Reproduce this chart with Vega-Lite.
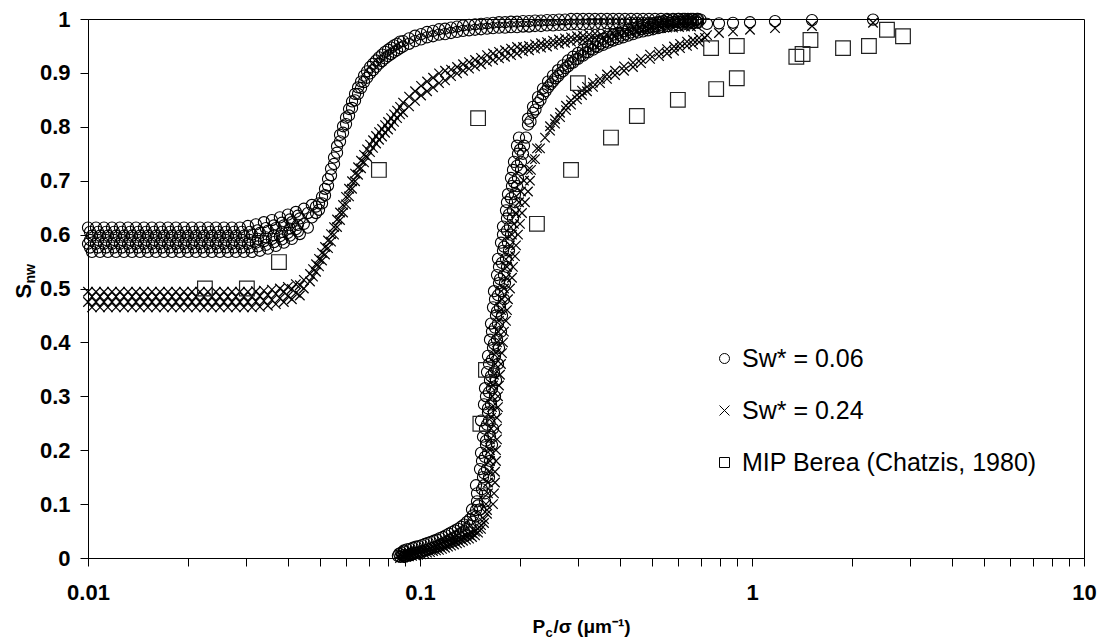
{
"$schema": "https://vega.github.io/schema/vega-lite/v6.json",
"width": 996, "height": 539,
"autosize": {"type": "none"},
"padding": {"left": 88, "top": 19, "right": 19, "bottom": 83},
"background": "white",
"resolve": {"axis": {"x": "independent", "y": "independent"}},
"config": {
  "view": {"stroke": "black", "strokeWidth": 1},
  "axis": {"domainColor": "black", "tickColor": "black", "labelColor": "black", "titleColor": "black", "labelFont": "Liberation Sans", "titleFont": "Liberation Sans", "labelFontWeight": "bold", "labelFontSize": 22, "titleFontSize": 19, "titleFontWeight": "bold", "grid": false, "tickSize": 8, "domainWidth": 1, "tickWidth": 1},
  "legend": {"labelFont": "Liberation Sans", "labelFontSize": 25, "labelColor": "black", "labelLimit": 600, "symbolStrokeColor": "black", "symbolStrokeWidth": 1, "symbolFillColor": "transparent"}
},
"datasets": {
"c": [
{"x":0.01,"y":0.613},{"x":0.01057,"y":0.613},{"x":0.01117,"y":0.613},{"x":0.01181,"y":0.613},{"x":0.01248,"y":0.613},{"x":0.0132,"y":0.613},{"x":0.01395,"y":0.613},{"x":0.01474,"y":0.613},{"x":0.01558,"y":0.613},{"x":0.01647,"y":0.613},{"x":0.01741,"y":0.613},{"x":0.0184,"y":0.613},{"x":0.01945,"y":0.613},{"x":0.02056,"y":0.613},{"x":0.02173,"y":0.613},{"x":0.02297,"y":0.613},{"x":0.02428,"y":0.613},{"x":0.02567,"y":0.613},{"x":0.02713,"y":0.613},{"x":0.02868,"y":0.613},{"x":0.03031,"y":0.616},{"x":0.03204,"y":0.619},{"x":0.03387,"y":0.623},{"x":0.0358,"y":0.627},{"x":0.03784,"y":0.632},{"x":0.03999,"y":0.637},{"x":0.04227,"y":0.642},{"x":0.04468,"y":0.648},{"x":0.04723,"y":0.655},
{"x":0.01028,"y":0.598},{"x":0.01087,"y":0.598},{"x":0.01148,"y":0.598},{"x":0.01214,"y":0.598},{"x":0.01283,"y":0.598},{"x":0.01357,"y":0.598},{"x":0.01434,"y":0.598},{"x":0.01515,"y":0.598},{"x":0.01602,"y":0.598},{"x":0.01693,"y":0.598},{"x":0.0179,"y":0.598},{"x":0.01892,"y":0.598},{"x":0.02,"y":0.598},{"x":0.02114,"y":0.598},{"x":0.02234,"y":0.598},{"x":0.02362,"y":0.598},{"x":0.02496,"y":0.598},{"x":0.02639,"y":0.598},{"x":0.02789,"y":0.598},{"x":0.02949,"y":0.598},{"x":0.03116,"y":0.6},{"x":0.03294,"y":0.603},{"x":0.03482,"y":0.607},{"x":0.0368,"y":0.612},{"x":0.0389,"y":0.617},{"x":0.04112,"y":0.623},{"x":0.04346,"y":0.63},{"x":0.04594,"y":0.64},
{"x":0.01,"y":0.583},{"x":0.01057,"y":0.583},{"x":0.01117,"y":0.583},{"x":0.01181,"y":0.583},{"x":0.01248,"y":0.583},{"x":0.0132,"y":0.583},{"x":0.01395,"y":0.583},{"x":0.01474,"y":0.583},{"x":0.01558,"y":0.583},{"x":0.01647,"y":0.583},{"x":0.01741,"y":0.583},{"x":0.0184,"y":0.583},{"x":0.01945,"y":0.583},{"x":0.02056,"y":0.583},{"x":0.02173,"y":0.583},{"x":0.02297,"y":0.583},{"x":0.02428,"y":0.583},{"x":0.02567,"y":0.583},{"x":0.02713,"y":0.583},{"x":0.02868,"y":0.583},{"x":0.03031,"y":0.583},{"x":0.03204,"y":0.585},{"x":0.03387,"y":0.588},{"x":0.0358,"y":0.592},{"x":0.03784,"y":0.597},{"x":0.03999,"y":0.603},{"x":0.04227,"y":0.61},{"x":0.04468,"y":0.62},{"x":0.04723,"y":0.632},
{"x":0.01028,"y":0.568},{"x":0.01087,"y":0.568},{"x":0.01148,"y":0.568},{"x":0.01214,"y":0.568},{"x":0.01283,"y":0.568},{"x":0.01357,"y":0.568},{"x":0.01434,"y":0.568},{"x":0.01515,"y":0.568},{"x":0.01602,"y":0.568},{"x":0.01693,"y":0.568},{"x":0.0179,"y":0.568},{"x":0.01892,"y":0.568},{"x":0.02,"y":0.568},{"x":0.02114,"y":0.568},{"x":0.02234,"y":0.568},{"x":0.02362,"y":0.568},{"x":0.02496,"y":0.568},{"x":0.02639,"y":0.568},{"x":0.02789,"y":0.568},{"x":0.02949,"y":0.568},{"x":0.03116,"y":0.568},{"x":0.03294,"y":0.57},{"x":0.03482,"y":0.574},{"x":0.0368,"y":0.579},{"x":0.0389,"y":0.585},{"x":0.04112,"y":0.592},{"x":0.04346,"y":0.601},{"x":0.04594,"y":0.613},
{"x":0.01014,"y":0.605},{"x":0.01072,"y":0.605},{"x":0.01133,"y":0.605},{"x":0.01198,"y":0.605},{"x":0.01265,"y":0.605},{"x":0.01338,"y":0.605},{"x":0.01415,"y":0.605},{"x":0.01495,"y":0.605},{"x":0.0158,"y":0.605},{"x":0.0167,"y":0.605},{"x":0.01765,"y":0.605},{"x":0.01866,"y":0.605},{"x":0.01972,"y":0.605},{"x":0.02085,"y":0.605},{"x":0.02203,"y":0.605},{"x":0.02329,"y":0.605},{"x":0.02462,"y":0.605},{"x":0.02603,"y":0.605},{"x":0.02751,"y":0.605},{"x":0.02908,"y":0.605},{"x":0.03073,"y":0.605},{"x":0.03249,"y":0.608},{"x":0.03434,"y":0.612},{"x":0.0363,"y":0.617},{"x":0.03837,"y":0.622},{"x":0.04055,"y":0.628},{"x":0.04286,"y":0.635},
{"x":0.01014,"y":0.59},{"x":0.01072,"y":0.59},{"x":0.01133,"y":0.59},{"x":0.01198,"y":0.59},{"x":0.01265,"y":0.59},{"x":0.01338,"y":0.59},{"x":0.01415,"y":0.59},{"x":0.01495,"y":0.59},{"x":0.0158,"y":0.59},{"x":0.0167,"y":0.59},{"x":0.01765,"y":0.59},{"x":0.01866,"y":0.59},{"x":0.01972,"y":0.59},{"x":0.02085,"y":0.59},{"x":0.02203,"y":0.59},{"x":0.02329,"y":0.59},{"x":0.02462,"y":0.59},{"x":0.02603,"y":0.59},{"x":0.02751,"y":0.59},{"x":0.02908,"y":0.59},{"x":0.03073,"y":0.59},{"x":0.03249,"y":0.592},{"x":0.03434,"y":0.595},{"x":0.0363,"y":0.599},{"x":0.03837,"y":0.605},{"x":0.04055,"y":0.611},{"x":0.04286,"y":0.618},
{"x":0.01014,"y":0.576},{"x":0.01072,"y":0.576},{"x":0.01133,"y":0.576},{"x":0.01198,"y":0.576},{"x":0.01265,"y":0.576},{"x":0.01338,"y":0.576},{"x":0.01415,"y":0.576},{"x":0.01495,"y":0.576},{"x":0.0158,"y":0.576},{"x":0.0167,"y":0.576},{"x":0.01765,"y":0.576},{"x":0.01866,"y":0.576},{"x":0.01972,"y":0.576},{"x":0.02085,"y":0.576},{"x":0.02203,"y":0.576},{"x":0.02329,"y":0.576},{"x":0.02462,"y":0.576},{"x":0.02603,"y":0.576},{"x":0.02751,"y":0.576},{"x":0.02908,"y":0.576},{"x":0.03073,"y":0.576},{"x":0.03249,"y":0.578},{"x":0.03434,"y":0.581},{"x":0.0363,"y":0.586},{"x":0.03837,"y":0.591},{"x":0.04055,"y":0.598},{"x":0.04286,"y":0.606},
{"x":0.04862,"y":0.652},{"x":0.04964,"y":0.658},{"x":0.05069,"y":0.67},{"x":0.05175,"y":0.685},{"x":0.05284,"y":0.703},{"x":0.05395,"y":0.722},{"x":0.05509,"y":0.743},{"x":0.05625,"y":0.764},{"x":0.05743,"y":0.785},{"x":0.05864,"y":0.801},{"x":0.05987,"y":0.817},{"x":0.06113,"y":0.833},{"x":0.06242,"y":0.847},{"x":0.06373,"y":0.861},{"x":0.06507,"y":0.873},{"x":0.06644,"y":0.884},{"x":0.06784,"y":0.895},{"x":0.06927,"y":0.903},{"x":0.07072,"y":0.911},{"x":0.07221,"y":0.917},{"x":0.07373,"y":0.923},{"x":0.07528,"y":0.929},{"x":0.07687,"y":0.934},{"x":0.07848,"y":0.939},{"x":0.08013,"y":0.943},{"x":0.08182,"y":0.947},{"x":0.08354,"y":0.951},{"x":0.0853,"y":0.954},{"x":0.08709,"y":0.958},
{"x":0.04862,"y":0.64},{"x":0.04964,"y":0.646},{"x":0.05069,"y":0.658},{"x":0.05175,"y":0.673},{"x":0.05284,"y":0.691},{"x":0.05395,"y":0.71},{"x":0.05509,"y":0.731},{"x":0.05625,"y":0.752},{"x":0.05743,"y":0.773},{"x":0.05864,"y":0.789},{"x":0.05987,"y":0.805},{"x":0.06113,"y":0.821},{"x":0.06242,"y":0.835},{"x":0.06373,"y":0.849},{"x":0.06507,"y":0.861},{"x":0.06644,"y":0.872},{"x":0.06784,"y":0.883},{"x":0.06927,"y":0.891},{"x":0.07072,"y":0.899},{"x":0.07221,"y":0.905},{"x":0.07373,"y":0.911},{"x":0.07528,"y":0.917},{"x":0.07687,"y":0.922},{"x":0.07848,"y":0.927},{"x":0.08013,"y":0.931},{"x":0.08182,"y":0.935},{"x":0.08354,"y":0.939},{"x":0.0853,"y":0.942},{"x":0.08709,"y":0.946},
{"x":0.08892,"y":0.959},{"x":0.0927,"y":0.964},{"x":0.09663,"y":0.969},{"x":0.10074,"y":0.972},{"x":0.10502,"y":0.976},{"x":0.10948,"y":0.978},{"x":0.11413,"y":0.981},{"x":0.11898,"y":0.982},{"x":0.12403,"y":0.984},{"x":0.1293,"y":0.986},{"x":0.13479,"y":0.988},{"x":0.14052,"y":0.989},{"x":0.14649,"y":0.99},{"x":0.15271,"y":0.991},{"x":0.1592,"y":0.992},{"x":0.16596,"y":0.993},{"x":0.17301,"y":0.994},{"x":0.18036,"y":0.994},{"x":0.18802,"y":0.995},{"x":0.19601,"y":0.995},{"x":0.20433,"y":0.996},{"x":0.21301,"y":0.996},{"x":0.22206,"y":0.997},{"x":0.23149,"y":0.997},{"x":0.24133,"y":0.998},{"x":0.25158,"y":0.998},{"x":0.26227,"y":0.999},{"x":0.27341,"y":0.999},{"x":0.28502,"y":1},{"x":0.29713,"y":1},{"x":0.30975,"y":1},{"x":0.32291,"y":1},{"x":0.33663,"y":1},{"x":0.35093,"y":1},{"x":0.36584,"y":1},{"x":0.38138,"y":1},{"x":0.39758,"y":1},{"x":0.41447,"y":1},{"x":0.43208,"y":1},{"x":0.45043,"y":1},{"x":0.46957,"y":1},{"x":0.48952,"y":1},{"x":0.51031,"y":1},{"x":0.53199,"y":1},{"x":0.55459,"y":1},{"x":0.57815,"y":1},{"x":0.60271,"y":1},{"x":0.62831,"y":1},{"x":0.655,"y":1},{"x":0.68283,"y":1},
{"x":0.08892,"y":0.949},{"x":0.0927,"y":0.954},{"x":0.09663,"y":0.959},{"x":0.10074,"y":0.962},{"x":0.10502,"y":0.966},{"x":0.10948,"y":0.968},{"x":0.11413,"y":0.971},{"x":0.11898,"y":0.972},{"x":0.12403,"y":0.974},{"x":0.1293,"y":0.976},{"x":0.13479,"y":0.978},{"x":0.14052,"y":0.979},{"x":0.14649,"y":0.98},{"x":0.15271,"y":0.981},{"x":0.1592,"y":0.982},{"x":0.16596,"y":0.983},{"x":0.17301,"y":0.984},{"x":0.18036,"y":0.984},{"x":0.18802,"y":0.985},{"x":0.19601,"y":0.985},{"x":0.20433,"y":0.986},{"x":0.21301,"y":0.986},{"x":0.22206,"y":0.987},{"x":0.23149,"y":0.987},{"x":0.24133,"y":0.988},{"x":0.25158,"y":0.988},{"x":0.26227,"y":0.989},{"x":0.27341,"y":0.989},{"x":0.28502,"y":0.99},{"x":0.29713,"y":0.99},{"x":0.30975,"y":0.99},{"x":0.32291,"y":0.991},{"x":0.33663,"y":0.991},{"x":0.35093,"y":0.991},{"x":0.36584,"y":0.992},{"x":0.38138,"y":0.992},{"x":0.39758,"y":0.992},{"x":0.41447,"y":0.992},{"x":0.43208,"y":0.993},{"x":0.45043,"y":0.993},{"x":0.46957,"y":0.993},{"x":0.48952,"y":0.993},{"x":0.51031,"y":0.993},{"x":0.53199,"y":0.994},{"x":0.55459,"y":0.994},{"x":0.57815,"y":0.994},{"x":0.60271,"y":0.994},{"x":0.62831,"y":0.994},{"x":0.655,"y":0.994},{"x":0.68283,"y":0.994},
{"x":0.0858,"y":0.004},{"x":0.0866,"y":0.008},{"x":0.0872,"y":0.002},{"x":0.0879,"y":0.01},{"x":0.0885,"y":0.005},{"x":0.0895,"y":0.012},{"x":0.0902,"y":0.003},{"x":0.0935,"y":0.006},{"x":0.0955,"y":0.01},
{"x":0.0895,"y":0.014},{"x":0.09138,"y":0.016},{"x":0.0933,"y":0.017},{"x":0.09526,"y":0.019},{"x":0.09726,"y":0.021},{"x":0.09931,"y":0.022},{"x":0.1014,"y":0.024},{"x":0.10353,"y":0.026},{"x":0.10571,"y":0.028},{"x":0.10793,"y":0.03},{"x":0.1102,"y":0.032},{"x":0.11251,"y":0.034},{"x":0.11488,"y":0.037},{"x":0.1173,"y":0.039},{"x":0.11976,"y":0.042},{"x":0.12228,"y":0.045},{"x":0.12485,"y":0.048},{"x":0.12748,"y":0.051},{"x":0.13015,"y":0.054},{"x":0.13289,"y":0.058},{"x":0.13569,"y":0.062},{"x":0.13854,"y":0.067},{"x":0.14145,"y":0.072},{"x":0.14443,"y":0.079},{"x":0.14747,"y":0.089},
{"x":0.0895,"y":0.002},{"x":0.09138,"y":0.004},{"x":0.0933,"y":0.005},{"x":0.09526,"y":0.007},{"x":0.09726,"y":0.009},{"x":0.09931,"y":0.01},{"x":0.1014,"y":0.012},{"x":0.10353,"y":0.014},{"x":0.10571,"y":0.016},{"x":0.10793,"y":0.018},{"x":0.1102,"y":0.02},{"x":0.11251,"y":0.022},{"x":0.11488,"y":0.025},{"x":0.1173,"y":0.027},{"x":0.11976,"y":0.03},{"x":0.12228,"y":0.033},{"x":0.12485,"y":0.036},{"x":0.12748,"y":0.039},{"x":0.13015,"y":0.042},{"x":0.13289,"y":0.046},{"x":0.13569,"y":0.05},{"x":0.13854,"y":0.055},{"x":0.14145,"y":0.06},{"x":0.14443,"y":0.067},{"x":0.14747,"y":0.077},
{"x":0.14343,"y":0.09},{"x":0.15161,"y":0.09},{"x":0.15696,"y":0.105},{"x":0.14849,"y":0.105},{"x":0.14849,"y":0.12},{"x":0.15696,"y":0.12},{"x":0.15587,"y":0.135},{"x":0.14746,"y":0.135},{"x":0.1548,"y":0.15},{"x":0.16137,"y":0.15},{"x":0.15161,"y":0.165},{"x":0.15915,"y":0.165},{"x":0.16249,"y":0.18},{"x":0.15373,"y":0.18},{"x":0.15266,"y":0.195},{"x":0.16026,"y":0.195},{"x":0.15805,"y":0.21},{"x":0.16476,"y":0.21},{"x":0.1548,"y":0.225},{"x":0.16249,"y":0.225},{"x":0.16591,"y":0.24},{"x":0.15696,"y":0.24},{"x":0.15266,"y":0.255},{"x":0.16137,"y":0.255},{"x":0.16026,"y":0.27},{"x":0.16706,"y":0.27},{"x":0.15587,"y":0.285},{"x":0.16363,"y":0.285},{"x":0.16823,"y":0.3},{"x":0.15805,"y":0.3},{"x":0.15696,"y":0.315},{"x":0.16476,"y":0.315},{"x":0.16249,"y":0.33},{"x":0.1694,"y":0.33},{"x":0.15915,"y":0.345},{"x":0.16706,"y":0.345},{"x":0.17176,"y":0.36},{"x":0.16137,"y":0.36},{"x":0.16026,"y":0.375},{"x":0.16823,"y":0.375},{"x":0.16591,"y":0.39},{"x":0.17296,"y":0.39},{"x":0.16249,"y":0.405},{"x":0.17058,"y":0.405},{"x":0.17537,"y":0.42},{"x":0.16476,"y":0.42},{"x":0.16363,"y":0.435},{"x":0.17176,"y":0.435},{"x":0.1694,"y":0.45},{"x":0.17659,"y":0.45},{"x":0.16591,"y":0.465},{"x":0.17416,"y":0.465},{"x":0.17906,"y":0.48},{"x":0.16823,"y":0.48},{"x":0.16706,"y":0.495},{"x":0.17537,"y":0.495},{"x":0.17296,"y":0.51},{"x":0.1803,"y":0.51},{"x":0.17058,"y":0.525},{"x":0.17906,"y":0.525},{"x":0.18282,"y":0.54},{"x":0.17296,"y":0.54},{"x":0.17176,"y":0.555},{"x":0.18156,"y":0.555},{"x":0.17782,"y":0.57},{"x":0.18538,"y":0.57},{"x":0.17537,"y":0.585},{"x":0.18409,"y":0.585},{"x":0.18796,"y":0.6},{"x":0.17782,"y":0.6},{"x":0.17782,"y":0.615},{"x":0.18667,"y":0.615},{"x":0.18282,"y":0.63},{"x":0.19059,"y":0.63},{"x":0.18156,"y":0.645},{"x":0.19059,"y":0.645},{"x":0.19325,"y":0.66},{"x":0.18282,"y":0.66},{"x":0.18409,"y":0.675},{"x":0.19325,"y":0.675},{"x":0.18927,"y":0.69},{"x":0.19595,"y":0.69},{"x":0.18796,"y":0.705},{"x":0.19731,"y":0.705},{"x":0.20146,"y":0.72},{"x":0.19059,"y":0.72},{"x":0.19191,"y":0.735},{"x":0.20146,"y":0.735},{"x":0.19731,"y":0.75},{"x":0.20427,"y":0.75},{"x":0.19595,"y":0.765},{"x":0.20569,"y":0.765},{"x":0.20857,"y":0.78},{"x":0.19868,"y":0.78},
{"x":0.14952,"y":0.0975},{"x":0.15373,"y":0.1275},{"x":0.15587,"y":0.1575},{"x":0.15696,"y":0.1875},{"x":0.15805,"y":0.2175},{"x":0.15915,"y":0.2475},{"x":0.16026,"y":0.2775},{"x":0.16137,"y":0.3075},{"x":0.16363,"y":0.3375},{"x":0.16476,"y":0.3675},{"x":0.16706,"y":0.3975},{"x":0.16823,"y":0.4275},{"x":0.17058,"y":0.4575},{"x":0.17176,"y":0.4875},{"x":0.17416,"y":0.5175},{"x":0.17659,"y":0.5475},{"x":0.17906,"y":0.5775},{"x":0.18282,"y":0.6075},{"x":0.18538,"y":0.6375},{"x":0.18796,"y":0.6675},{"x":0.19191,"y":0.6975},{"x":0.19595,"y":0.7275},{"x":0.20007,"y":0.7575},
{"x":0.2115,"y":0.815},{"x":0.219,"y":0.837},{"x":0.2267,"y":0.855},{"x":0.2347,"y":0.871},{"x":0.243,"y":0.884},{"x":0.2515,"y":0.895},{"x":0.2604,"y":0.905},{"x":0.2696,"y":0.914},{"x":0.2791,"y":0.923},{"x":0.289,"y":0.93},{"x":0.2992,"y":0.937},{"x":0.3097,"y":0.943},{"x":0.3206,"y":0.949},{"x":0.332,"y":0.954},{"x":0.3437,"y":0.959},{"x":0.3558,"y":0.963},{"x":0.3683,"y":0.967},{"x":0.3814,"y":0.971},{"x":0.3948,"y":0.974},{"x":0.4087,"y":0.977},{"x":0.4232,"y":0.98},{"x":0.4381,"y":0.983},{"x":0.4536,"y":0.986},{"x":0.4696,"y":0.988},{"x":0.4861,"y":0.99},{"x":0.5033,"y":0.992},{"x":0.521,"y":0.994},{"x":0.5394,"y":0.996},{"x":0.5585,"y":0.998},{"x":0.5782,"y":0.999},{"x":0.5986,"y":1},{"x":0.6197,"y":1},{"x":0.6415,"y":1},{"x":0.6642,"y":1},{"x":0.6876,"y":1},
{"x":0.2152,"y":0.81},{"x":0.2228,"y":0.832},{"x":0.2307,"y":0.85},{"x":0.2388,"y":0.866},{"x":0.2473,"y":0.879},{"x":0.2559,"y":0.89},{"x":0.265,"y":0.9},{"x":0.2743,"y":0.909},{"x":0.284,"y":0.918},{"x":0.2941,"y":0.925},{"x":0.3044,"y":0.932},{"x":0.3151,"y":0.938},{"x":0.3262,"y":0.944},{"x":0.3378,"y":0.949},{"x":0.3497,"y":0.954},{"x":0.362,"y":0.958},{"x":0.3747,"y":0.962},{"x":0.3881,"y":0.966},{"x":0.4017,"y":0.969},{"x":0.4159,"y":0.972},{"x":0.4306,"y":0.975},{"x":0.4458,"y":0.978},{"x":0.4615,"y":0.981},{"x":0.4778,"y":0.983},{"x":0.4946,"y":0.985},{"x":0.5121,"y":0.987},{"x":0.5301,"y":0.989},{"x":0.5488,"y":0.991},{"x":0.5683,"y":0.993},{"x":0.5883,"y":0.994},{"x":0.6091,"y":0.995},{"x":0.6306,"y":0.996},{"x":0.6527,"y":0.997},{"x":0.6758,"y":0.998},{"x":0.6996,"y":0.999},
{"x":0.2115,"y":0.804},{"x":0.219,"y":0.826},{"x":0.2267,"y":0.844},{"x":0.2347,"y":0.86},{"x":0.243,"y":0.873},{"x":0.2515,"y":0.884},{"x":0.2604,"y":0.894},{"x":0.2696,"y":0.903},{"x":0.2791,"y":0.912},{"x":0.289,"y":0.919},{"x":0.2992,"y":0.926},{"x":0.3097,"y":0.932},{"x":0.3206,"y":0.938},{"x":0.332,"y":0.943},{"x":0.3437,"y":0.948},{"x":0.3558,"y":0.952},{"x":0.3683,"y":0.956},{"x":0.3814,"y":0.96},{"x":0.3948,"y":0.963},{"x":0.4087,"y":0.966},{"x":0.4232,"y":0.969},{"x":0.4381,"y":0.972},{"x":0.4536,"y":0.975},{"x":0.4696,"y":0.977},{"x":0.4861,"y":0.979},{"x":0.5033,"y":0.981},{"x":0.521,"y":0.983},{"x":0.5394,"y":0.985},{"x":0.5585,"y":0.987},{"x":0.5782,"y":0.988},{"x":0.5986,"y":0.989},{"x":0.6197,"y":0.99},{"x":0.6415,"y":0.991},{"x":0.6642,"y":0.992},{"x":0.6876,"y":0.993},
{"x":0.7319,"y":0.991},{"x":0.7954,"y":0.992},{"x":0.8765,"y":0.993},{"x":0.9863,"y":0.994},{"x":1.173,"y":0.996},{"x":1.516,"y":0.998},{"x":2.315,"y":0.999}
],
"k": [
{"x":0.01,"y":0.494},{"x":0.01057,"y":0.494},{"x":0.01117,"y":0.494},{"x":0.01181,"y":0.494},{"x":0.01248,"y":0.494},{"x":0.0132,"y":0.494},{"x":0.01395,"y":0.494},{"x":0.01474,"y":0.494},{"x":0.01558,"y":0.494},{"x":0.01647,"y":0.494},{"x":0.01741,"y":0.494},{"x":0.0184,"y":0.494},{"x":0.01945,"y":0.494},{"x":0.02056,"y":0.494},{"x":0.02173,"y":0.494},{"x":0.02297,"y":0.494},{"x":0.02428,"y":0.494},{"x":0.02567,"y":0.494},{"x":0.02713,"y":0.494},{"x":0.02868,"y":0.494},{"x":0.03031,"y":0.494},{"x":0.03204,"y":0.495},{"x":0.03387,"y":0.496},{"x":0.0358,"y":0.498},{"x":0.03784,"y":0.5},{"x":0.03999,"y":0.503},{"x":0.04227,"y":0.508},{"x":0.04468,"y":0.516},
{"x":0.01028,"y":0.485},{"x":0.01087,"y":0.485},{"x":0.01148,"y":0.485},{"x":0.01214,"y":0.485},{"x":0.01283,"y":0.485},{"x":0.01357,"y":0.485},{"x":0.01434,"y":0.485},{"x":0.01515,"y":0.485},{"x":0.01602,"y":0.485},{"x":0.01693,"y":0.485},{"x":0.0179,"y":0.485},{"x":0.01892,"y":0.485},{"x":0.02,"y":0.485},{"x":0.02114,"y":0.485},{"x":0.02234,"y":0.485},{"x":0.02362,"y":0.485},{"x":0.02496,"y":0.485},{"x":0.02639,"y":0.485},{"x":0.02789,"y":0.485},{"x":0.02949,"y":0.485},{"x":0.03116,"y":0.485},{"x":0.03294,"y":0.486},{"x":0.03482,"y":0.488},{"x":0.0368,"y":0.49},{"x":0.0389,"y":0.494},{"x":0.04112,"y":0.499},{"x":0.04346,"y":0.506},
{"x":0.01,"y":0.475},{"x":0.01057,"y":0.475},{"x":0.01117,"y":0.475},{"x":0.01181,"y":0.475},{"x":0.01248,"y":0.475},{"x":0.0132,"y":0.475},{"x":0.01395,"y":0.475},{"x":0.01474,"y":0.475},{"x":0.01558,"y":0.475},{"x":0.01647,"y":0.475},{"x":0.01741,"y":0.475},{"x":0.0184,"y":0.475},{"x":0.01945,"y":0.475},{"x":0.02056,"y":0.475},{"x":0.02173,"y":0.475},{"x":0.02297,"y":0.475},{"x":0.02428,"y":0.475},{"x":0.02567,"y":0.475},{"x":0.02713,"y":0.475},{"x":0.02868,"y":0.475},{"x":0.03031,"y":0.475},{"x":0.03204,"y":0.476},{"x":0.03387,"y":0.477},{"x":0.0358,"y":0.479},{"x":0.03784,"y":0.482},{"x":0.03999,"y":0.486},{"x":0.04227,"y":0.492},{"x":0.04468,"y":0.5},
{"x":0.01028,"y":0.465},{"x":0.01087,"y":0.465},{"x":0.01148,"y":0.465},{"x":0.01214,"y":0.465},{"x":0.01283,"y":0.465},{"x":0.01357,"y":0.465},{"x":0.01434,"y":0.465},{"x":0.01515,"y":0.465},{"x":0.01602,"y":0.465},{"x":0.01693,"y":0.465},{"x":0.0179,"y":0.465},{"x":0.01892,"y":0.465},{"x":0.02,"y":0.465},{"x":0.02114,"y":0.465},{"x":0.02234,"y":0.465},{"x":0.02362,"y":0.465},{"x":0.02496,"y":0.465},{"x":0.02639,"y":0.465},{"x":0.02789,"y":0.465},{"x":0.02949,"y":0.465},{"x":0.03116,"y":0.465},{"x":0.03294,"y":0.466},{"x":0.03482,"y":0.468},{"x":0.0368,"y":0.471},{"x":0.0389,"y":0.475},{"x":0.04112,"y":0.48},{"x":0.04346,"y":0.487},
{"x":0.04663,"y":0.527},{"x":0.04761,"y":0.536},{"x":0.04862,"y":0.545},{"x":0.04964,"y":0.555},{"x":0.05069,"y":0.566},{"x":0.05175,"y":0.577},{"x":0.05284,"y":0.589},{"x":0.05395,"y":0.601},{"x":0.05509,"y":0.614},{"x":0.05625,"y":0.628},{"x":0.05743,"y":0.641},{"x":0.05864,"y":0.655},{"x":0.05987,"y":0.67},{"x":0.06113,"y":0.685},{"x":0.06242,"y":0.699},{"x":0.06373,"y":0.713},{"x":0.06507,"y":0.725},{"x":0.06644,"y":0.737},{"x":0.06784,"y":0.748},{"x":0.06927,"y":0.758},{"x":0.07072,"y":0.767},{"x":0.07221,"y":0.775},{"x":0.07373,"y":0.783},{"x":0.07528,"y":0.79},{"x":0.07687,"y":0.796},{"x":0.07848,"y":0.803},{"x":0.08013,"y":0.809},{"x":0.08182,"y":0.816},{"x":0.08354,"y":0.823},{"x":0.0853,"y":0.83},{"x":0.08709,"y":0.837},
{"x":0.04663,"y":0.513},{"x":0.04761,"y":0.522},{"x":0.04862,"y":0.531},{"x":0.04964,"y":0.541},{"x":0.05069,"y":0.552},{"x":0.05175,"y":0.563},{"x":0.05284,"y":0.575},{"x":0.05395,"y":0.587},{"x":0.05509,"y":0.6},{"x":0.05625,"y":0.614},{"x":0.05743,"y":0.627},{"x":0.05864,"y":0.641},{"x":0.05987,"y":0.656},{"x":0.06113,"y":0.671},{"x":0.06242,"y":0.685},{"x":0.06373,"y":0.699},{"x":0.06507,"y":0.711},{"x":0.06644,"y":0.723},{"x":0.06784,"y":0.734},{"x":0.06927,"y":0.744},{"x":0.07072,"y":0.753},{"x":0.07221,"y":0.761},{"x":0.07373,"y":0.769},{"x":0.07528,"y":0.776},{"x":0.07687,"y":0.782},{"x":0.07848,"y":0.789},{"x":0.08013,"y":0.795},{"x":0.08182,"y":0.802},{"x":0.08354,"y":0.809},{"x":0.0853,"y":0.816},{"x":0.08709,"y":0.823},
{"x":0.08892,"y":0.845},{"x":0.0927,"y":0.856},{"x":0.09663,"y":0.866},{"x":0.10074,"y":0.876},{"x":0.10502,"y":0.884},{"x":0.10948,"y":0.891},{"x":0.11413,"y":0.899},{"x":0.11898,"y":0.904},{"x":0.12403,"y":0.906},{"x":0.1293,"y":0.911},{"x":0.13479,"y":0.916},{"x":0.14052,"y":0.92},{"x":0.14649,"y":0.924},{"x":0.15271,"y":0.928},{"x":0.1592,"y":0.933},{"x":0.16596,"y":0.936},{"x":0.17301,"y":0.939},{"x":0.18036,"y":0.942},{"x":0.18802,"y":0.945},{"x":0.19601,"y":0.948},{"x":0.20433,"y":0.948},{"x":0.21301,"y":0.95},{"x":0.22206,"y":0.953},{"x":0.23149,"y":0.955},{"x":0.24133,"y":0.957},{"x":0.25158,"y":0.96},{"x":0.26227,"y":0.962},{"x":0.27341,"y":0.964},{"x":0.28502,"y":0.966},{"x":0.29713,"y":0.968},{"x":0.30975,"y":0.969},{"x":0.32291,"y":0.971},{"x":0.33663,"y":0.973},
{"x":0.08892,"y":0.827},{"x":0.0927,"y":0.838},{"x":0.09663,"y":0.848},{"x":0.10074,"y":0.858},{"x":0.10502,"y":0.866},{"x":0.10948,"y":0.873},{"x":0.11413,"y":0.881},{"x":0.11898,"y":0.886},{"x":0.12403,"y":0.894},{"x":0.1293,"y":0.899},{"x":0.13479,"y":0.904},{"x":0.14052,"y":0.908},{"x":0.14649,"y":0.912},{"x":0.15271,"y":0.916},{"x":0.1592,"y":0.921},{"x":0.16596,"y":0.924},{"x":0.17301,"y":0.927},{"x":0.18036,"y":0.93},{"x":0.18802,"y":0.933},{"x":0.19601,"y":0.936},{"x":0.20433,"y":0.94},{"x":0.21301,"y":0.942},{"x":0.22206,"y":0.945},{"x":0.23149,"y":0.947},{"x":0.24133,"y":0.949},{"x":0.25158,"y":0.952},{"x":0.26227,"y":0.954},{"x":0.27341,"y":0.956},{"x":0.28502,"y":0.958},{"x":0.29713,"y":0.96},{"x":0.30975,"y":0.961},{"x":0.32291,"y":0.963},{"x":0.33663,"y":0.965},
{"x":0.35093,"y":0.971},{"x":0.36584,"y":0.972},{"x":0.38138,"y":0.974},{"x":0.39758,"y":0.975},{"x":0.41447,"y":0.977},{"x":0.43208,"y":0.978},{"x":0.45043,"y":0.979},{"x":0.46957,"y":0.98},{"x":0.48952,"y":0.981},{"x":0.51031,"y":0.982},{"x":0.53199,"y":0.983},{"x":0.55459,"y":0.984},{"x":0.57815,"y":0.984},{"x":0.60271,"y":0.985},{"x":0.62831,"y":0.986},{"x":0.655,"y":0.986},{"x":0.68283,"y":0.987},
{"x":0.08705,"y":0.007},{"x":0.08888,"y":0.008},{"x":0.09075,"y":0.009},{"x":0.09265,"y":0.01},{"x":0.0946,"y":0.011},{"x":0.09659,"y":0.012},{"x":0.09862,"y":0.013},{"x":0.1007,"y":0.014},{"x":0.10281,"y":0.016},{"x":0.10498,"y":0.017},{"x":0.10718,"y":0.018},{"x":0.10943,"y":0.02},{"x":0.11174,"y":0.021},{"x":0.11408,"y":0.022},{"x":0.11648,"y":0.024},{"x":0.11893,"y":0.026},{"x":0.12143,"y":0.028},{"x":0.12399,"y":0.03},{"x":0.12659,"y":0.032},{"x":0.12925,"y":0.034},{"x":0.13197,"y":0.036},{"x":0.13475,"y":0.039},{"x":0.13758,"y":0.041},{"x":0.14047,"y":0.043},{"x":0.14343,"y":0.046},{"x":0.14644,"y":0.049},{"x":0.14952,"y":0.054},{"x":0.15266,"y":0.061},{"x":0.15587,"y":0.072},{"x":0.15915,"y":0.089},
{"x":0.08705,"y":0.0},{"x":0.08888,"y":0.001},{"x":0.09075,"y":0.002},{"x":0.09265,"y":0.003},{"x":0.0946,"y":0.004},{"x":0.09659,"y":0.005},{"x":0.09862,"y":0.006},{"x":0.1007,"y":0.007},{"x":0.10281,"y":0.009},{"x":0.10498,"y":0.01},{"x":0.10718,"y":0.011},{"x":0.10943,"y":0.013},{"x":0.11174,"y":0.014},{"x":0.11408,"y":0.015},{"x":0.11648,"y":0.017},{"x":0.11893,"y":0.019},{"x":0.12143,"y":0.021},{"x":0.12399,"y":0.023},{"x":0.12659,"y":0.025},{"x":0.12925,"y":0.027},{"x":0.13197,"y":0.029},{"x":0.13475,"y":0.032},{"x":0.13758,"y":0.034},{"x":0.14047,"y":0.036},{"x":0.14343,"y":0.039},{"x":0.14644,"y":0.042},{"x":0.14952,"y":0.047},{"x":0.15266,"y":0.054},{"x":0.15587,"y":0.065},{"x":0.15915,"y":0.082},
{"x":0.15805,"y":0.1},{"x":0.16591,"y":0.1},{"x":0.16026,"y":0.12},{"x":0.16706,"y":0.12},{"x":0.16026,"y":0.14},{"x":0.16823,"y":0.14},{"x":0.16137,"y":0.16},{"x":0.16823,"y":0.16},{"x":0.16249,"y":0.18},{"x":0.1694,"y":0.18},{"x":0.16249,"y":0.2},{"x":0.1694,"y":0.2},{"x":0.16249,"y":0.22},{"x":0.17058,"y":0.22},{"x":0.16363,"y":0.24},{"x":0.17058,"y":0.24},{"x":0.16363,"y":0.26},{"x":0.17058,"y":0.26},{"x":0.16476,"y":0.28},{"x":0.17176,"y":0.28},{"x":0.16476,"y":0.3},{"x":0.17176,"y":0.3},{"x":0.16591,"y":0.32},{"x":0.17296,"y":0.32},{"x":0.16706,"y":0.34},{"x":0.17416,"y":0.34},{"x":0.16823,"y":0.36},{"x":0.17537,"y":0.36},{"x":0.1694,"y":0.38},{"x":0.17659,"y":0.38},{"x":0.17058,"y":0.4},{"x":0.17782,"y":0.4},{"x":0.17176,"y":0.42},{"x":0.17906,"y":0.42},{"x":0.17296,"y":0.44},{"x":0.18156,"y":0.44},{"x":0.17537,"y":0.46},{"x":0.18282,"y":0.46},{"x":0.17659,"y":0.48},{"x":0.18409,"y":0.48},{"x":0.17906,"y":0.5},{"x":0.18667,"y":0.5},{"x":0.18156,"y":0.52},{"x":0.18927,"y":0.52},{"x":0.18282,"y":0.54},{"x":0.19059,"y":0.54},{"x":0.18538,"y":0.56},{"x":0.19325,"y":0.56},{"x":0.18667,"y":0.58},{"x":0.1946,"y":0.58},{"x":0.18927,"y":0.6},{"x":0.19731,"y":0.6},{"x":0.19191,"y":0.62},{"x":0.20007,"y":0.62},{"x":0.1946,"y":0.64},{"x":0.20286,"y":0.64},{"x":0.19868,"y":0.66},{"x":0.20712,"y":0.66},{"x":0.20146,"y":0.68},{"x":0.21148,"y":0.68},{"x":0.20569,"y":0.7},{"x":0.21443,"y":0.7},{"x":0.21148,"y":0.72},{"x":0.2159,"y":0.72},{"x":0.21745,"y":0.74},{"x":0.222,"y":0.74},{"x":0.22512,"y":0.76},{"x":0.2299,"y":0.76},{"x":0.238,"y":0.78},
{"x":0.2464,"y":0.801},{"x":0.2551,"y":0.814},{"x":0.2641,"y":0.826},{"x":0.2753,"y":0.839},{"x":0.285,"y":0.849},{"x":0.2971,"y":0.859},{"x":0.3076,"y":0.867},{"x":0.3184,"y":0.874},{"x":0.332,"y":0.882},{"x":0.3485,"y":0.889},{"x":0.3658,"y":0.897},{"x":0.3867,"y":0.904},{"x":0.4116,"y":0.912},{"x":0.4381,"y":0.919},{"x":0.4631,"y":0.926},{"x":0.493,"y":0.934},{"x":0.5247,"y":0.939},{"x":0.5546,"y":0.944},{"x":0.5822,"y":0.949},{"x":0.607,"y":0.954},{"x":0.6371,"y":0.958},{"x":0.6642,"y":0.961},{"x":0.6925,"y":0.965},
{"x":0.2464,"y":0.793},{"x":0.2551,"y":0.806},{"x":0.2641,"y":0.818},{"x":0.2753,"y":0.831},{"x":0.285,"y":0.841},{"x":0.2971,"y":0.851},{"x":0.3076,"y":0.859},{"x":0.3184,"y":0.866},{"x":0.332,"y":0.874},{"x":0.3485,"y":0.881},{"x":0.3658,"y":0.889},{"x":0.3867,"y":0.896},{"x":0.4116,"y":0.904},{"x":0.4381,"y":0.911},{"x":0.4631,"y":0.918},{"x":0.493,"y":0.926},{"x":0.5247,"y":0.931},{"x":0.5546,"y":0.936},{"x":0.5822,"y":0.941},{"x":0.607,"y":0.946},{"x":0.6371,"y":0.95},{"x":0.6642,"y":0.953},{"x":0.6925,"y":0.957},{"x":0.7219,"y":0.965},
{"x":0.7319,"y":0.97},{"x":0.7954,"y":0.974},{"x":0.8765,"y":0.977},{"x":0.9863,"y":0.98},{"x":1.173,"y":0.983},{"x":1.516,"y":0.987},{"x":2.315,"y":0.993}
],
"m": [
{"x":0.0225,"y":0.5},{"x":0.0301,"y":0.5},{"x":0.0376,"y":0.549},{"x":0.0752,"y":0.72},{"x":0.1496,"y":0.816},{"x":0.152,"y":0.249},{"x":0.158,"y":0.349},{"x":0.225,"y":0.62},{"x":0.285,"y":0.72},{"x":0.299,"y":0.881},{"x":0.376,"y":0.78},{"x":0.45,"y":0.82},{"x":0.598,"y":0.85},{"x":0.753,"y":0.946},{"x":0.78,"y":0.87},{"x":0.9,"y":0.89},{"x":0.9,"y":0.95},{"x":1.36,"y":0.93},{"x":1.42,"y":0.935},{"x":1.5,"y":0.961},{"x":1.88,"y":0.946},{"x":2.25,"y":0.95},{"x":2.55,"y":0.98},{"x":2.85,"y":0.968}
]
},
"layer": [
{"data": {"name": "c"},
 "mark": {"type": "point", "filled": false, "stroke": "black", "strokeWidth": 1.1, "size": 125, "opacity": 1},
 "encoding": {
  "x": {"field": "x", "type": "quantitative", "scale": {"type": "log", "domain": [0.01, 10]},
    "axis": {"orient": "bottom", "values": [0.01,0.02,0.03,0.04,0.05,0.06,0.07,0.08,0.09,0.1,0.2,0.3,0.4,0.5,0.6,0.7,0.8,0.9,1,2,3,4,5,6,7,8,9,10],
      "labelExpr": "datum.value == 0.01 || datum.value == 0.1 || datum.value == 1 || datum.value == 10 ? '' + datum.value : ''",
      "labelOverlap": false, "labelFlush": false, "labelPadding": 16, "title": "P", "titleX": 444, "titleY": 74, "titleAlign": "left", "titleBaseline": "alphabetic", "titleAnchor": "start"}},
  "y": {"field": "y", "type": "quantitative", "scale": {"domain": [0, 1], "nice": false},
    "axis": {"orient": "left", "values": [0,0.1,0.2,0.3,0.4,0.5,0.6,0.7,0.8,0.9,1], "format": "~g", "labelPadding": 10, "title": "S", "titleFontSize": 22, "titleX": -58, "titleY": 279, "titleAngle": -90, "titleAlign": "left", "titleBaseline": "alphabetic", "titleAnchor": "start"}},
  "shape": {"datum": "Sw* = 0.06", "type": "nominal",
    "scale": {"domain": ["Sw* = 0.06", "Sw* = 0.24", "MIP Berea (Chatzis, 1980)"], "range": ["circle", "M-1,-1L1,1M-1,1L1,-1", "square"]},
    "legend": {"orient": "none", "legendX": 624, "legendY": 327, "title": null, "rowPadding": 26, "labelOffset": 5,
      "encode": {"symbols": {"update": {"size": {"condition": [{"test": "datum.value == 'Sw* = 0.24'", "value": 30}, {"test": "datum.value == 'Sw* = 0.06'", "value": 105}], "value": 200}}}}}}
 }},
{"data": {"name": "k"},
 "mark": {"type": "point", "filled": false, "stroke": "black", "strokeWidth": 1.2, "size": 90, "opacity": 1},
 "encoding": {
  "x": {"field": "x", "type": "quantitative",
    "axis": {"orient": "bottom", "labels": false, "ticks": false, "domain": false, "title": "c", "titleFontSize": 13, "titleX": 457, "titleY": 78, "titleAlign": "left", "titleBaseline": "alphabetic", "titleAnchor": "start"}},
  "y": {"field": "y", "type": "quantitative",
    "axis": {"orient": "left", "labels": false, "ticks": false, "domain": false, "title": "nw", "titleFontSize": 14, "titleX": -54, "titleY": 264, "titleAngle": -90, "titleAlign": "left", "titleBaseline": "alphabetic", "titleAnchor": "start"}},
  "shape": {"datum": "Sw* = 0.24", "type": "nominal"}
 }},
{"data": {"name": "m"},
 "mark": {"type": "point", "filled": false, "stroke": "#222222", "strokeWidth": 1.2, "size": 215, "opacity": 1},
 "encoding": {
  "x": {"field": "x", "type": "quantitative",
    "axis": {"orient": "bottom", "labels": false, "ticks": false, "domain": false, "title": "/σ (μm⁻¹)", "titleX": 465, "titleY": 74, "titleAlign": "left", "titleBaseline": "alphabetic", "titleAnchor": "start"}},
  "y": {"field": "y", "type": "quantitative", "axis": null},
  "shape": {"datum": "MIP Berea (Chatzis, 1980)", "type": "nominal"}
 }}
]
}
